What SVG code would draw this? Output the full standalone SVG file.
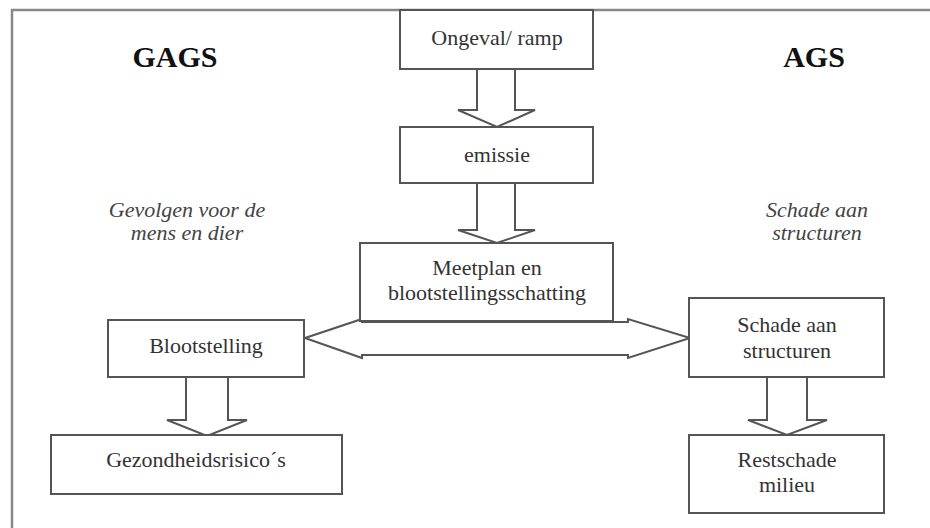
<svg xmlns="http://www.w3.org/2000/svg" width="930" height="528" viewBox="0 0 930 528" font-family="Liberation Serif, serif">
<style>
.box{fill:#fff;stroke:#555;stroke-width:2}
.arr{fill:#fff;stroke:#555;stroke-width:2;stroke-linejoin:miter}
.t{font-size:22px;fill:#333;text-anchor:middle}
.it{font-size:22px;font-style:italic;fill:#444;text-anchor:middle}
.h{font-size:30px;font-weight:bold;fill:#111;text-anchor:middle}
</style>
<rect width="930" height="528" fill="#fff"/>
<g id="frame" fill="none" stroke="#888" stroke-width="2.5">
<path d="M12,528 V10 H930"/>
</g>
<g id="labels" font-family="Liberation Serif">
<text class="h" x="175" y="67">GAGS</text>
<text class="h" x="814" y="67">AGS</text>
<text class="it" x="187" y="217">Gevolgen voor de</text>
<text class="it" x="187" y="240">mens en dier</text>
<text class="it" x="817" y="217">Schade aan</text>
<text class="it" x="817" y="240">structuren</text>
</g>
<g id="connectors">
<polygon class="arr" points="477,69 477,110 458,110 497,127 535,110 515,110 515,69"/>
<polygon class="arr" points="477,183 477,230 458,230 497,243 535,230 515,230 515,183"/>
<polygon class="arr" points="305,338 362,319 362,322 628,322 628,319 690,338 628,358 628,355 362,355 362,358"/>
<polygon class="arr" points="186,377 186,420 167,420 207,436 247,420 228,420 228,377"/>
<polygon class="arr" points="767,377 767,420 748,420 787,435 827,420 807,420 807,377"/>
</g>
<g id="ongeval" font-family="Liberation Serif">
<rect class="box" x="400" y="10" width="193" height="59"/>
<text class="t" x="497" y="45">Ongeval/ ramp</text>
</g>
<g id="emissie" font-family="Liberation Serif">
<rect class="box" x="400" y="127" width="193" height="56"/>
<text class="t" x="497" y="162">emissie</text>
</g>
<g id="meetplan" font-family="Liberation Serif">
<rect class="box" x="360" y="243" width="253" height="78"/>
<text class="t" x="487" y="275">Meetplan en</text>
<text class="t" x="487" y="300">blootstellingsschatting</text>
</g>
<g id="blootstelling" font-family="Liberation Serif">
<rect class="box" x="108" y="320" width="196" height="57"/>
<text class="t" x="206" y="353">Blootstelling</text>
</g>
<g id="gezondheid" font-family="Liberation Serif">
<rect class="box" x="51" y="435" width="291" height="59"/>
<text class="t" x="196" y="467">Gezondheidsrisico´s</text>
</g>
<g id="schade" font-family="Liberation Serif">
<rect class="box" x="689" y="298" width="195" height="79"/>
<text class="t" x="787" y="332">Schade aan</text>
<text class="t" x="787" y="358">structuren</text>
</g>
<g id="restschade" font-family="Liberation Serif">
<rect class="box" x="689" y="435" width="195" height="78"/>
<text class="t" x="787" y="467">Restschade</text>
<text class="t" x="787" y="492">milieu</text>
</g>
</svg>
